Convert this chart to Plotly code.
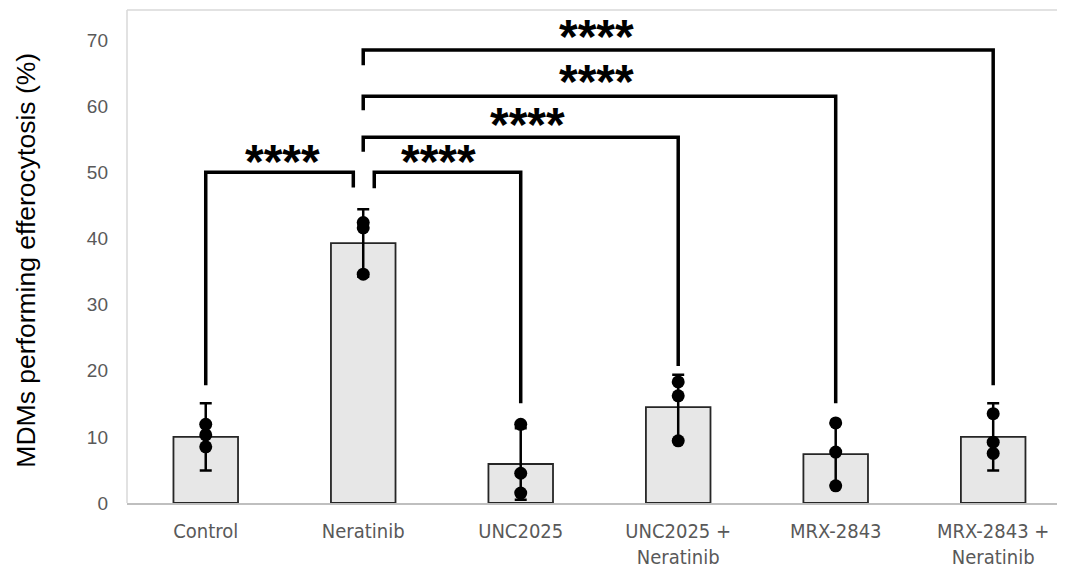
import plotly.graph_objects as go

# ---- data ----
categories = ["Control", "Neratinib", "UNC2025", "UNC2025 +<br>Neratinib", "MRX-2843", "MRX-2843 +<br>Neratinib"]
means = [10.0, 39.3, 5.9, 14.5, 7.4, 10.0]
errors = [5.1, 5.1, 5.4, 4.9, 4.7, 5.1]
replicates = [
    [11.9, 10.3, 8.5],
    [42.4, 41.6, 34.6],
    [11.9, 4.5, 1.5],
    [18.3, 16.2, 9.4],
    [12.1, 7.7, 2.6],
    [13.5, 9.2, 7.5],
]
y_ticks = [0, 10, 20, 30, 40, 50, 60, 70]

# significance brackets: left x, right x, bar height, left leg bottom, right leg bottom
br_left = [0.0, 1.07, 1.0, 1.0, 1.0]
br_right = [0.937, 2.0, 3.0, 4.0, 5.0]
br_height = [50.0, 50.0, 55.3, 61.5, 68.5]
br_left_bottom = [17.8, 47.6, 53.1, 59.4, 66.2]
br_right_bottom = [47.7, 15.1, 20.7, 15.1, 17.8]
br_label = ["****", "****", "****", "****", "****"]
br_label_x = [0.49, 1.475, 2.04, 2.48, 2.48]
br_label_y = [52.3, 52.3, 57.9, 64.4, 71.1]

xpos = list(range(len(categories)))

fig = go.Figure()

fig.add_trace(go.Bar(
    x=xpos, y=means,
    marker=dict(color="#e7e7e7", line=dict(color="#262626", width=1.8)),
    width=0.41,
    error_y=dict(type="data", array=errors, visible=True, color="black", thickness=2.5, width=6),
    hoverinfo="skip",
))

px, py = [], []
for i, reps in enumerate(replicates):
    for v in reps:
        px.append(i)
        py.append(v)
fig.add_trace(go.Scatter(
    x=px, y=py, mode="markers",
    marker=dict(color="black", size=13),
    hoverinfo="skip",
))

for i in range(len(br_left)):
    fig.add_trace(go.Scatter(
        x=[br_left[i], br_left[i], br_right[i], br_right[i]],
        y=[br_left_bottom[i], br_height[i], br_height[i], br_right_bottom[i]],
        mode="lines", line=dict(color="black", width=3.5),
        hoverinfo="skip",
    ))
    fig.add_annotation(
        x=br_label_x[i], y=br_label_y[i], xref="x", yref="y",
        text=br_label[i], showarrow=False, yshift=-4,
        font=dict(family="Liberation Sans", size=48, color="black", weight="bold"),
        xanchor="center", yanchor="middle",
    )

# y-axis title
fig.add_annotation(
    x=-0.108, y=0.493, xref="paper", yref="paper",
    text="MDMs performing efferocytosis (%)", textangle=-90, showarrow=False,
    font=dict(family="Liberation Sans", size=26.5, color="black"),
    xanchor="center", yanchor="middle",
)

# frame lines
fig.add_shape(type="line", xref="paper", yref="paper", x0=0, x1=0, y0=0, y1=1,
              line=dict(color="#d9d9d9", width=1.5))
fig.add_shape(type="line", xref="paper", yref="paper", x0=0, x1=1, y0=1, y1=1,
              line=dict(color="#d9d9d9", width=1.5))

# page body has an 8px margin, so the figure is sized to fit the 1065x570 window
fig.update_layout(
    width=1057, height=562,
    margin=dict(l=119, r=0, t=2, b=67),
    plot_bgcolor="white", paper_bgcolor="white",
    showlegend=False,
    xaxis=dict(
        tickmode="array", tickvals=xpos, ticktext=categories,
        range=[-0.5, 5.456], showgrid=False, zeroline=False,
        showline=True, linecolor="#bfbfbf", linewidth=2,
        tickfont=dict(family="DejaVu Sans Condensed, Liberation Sans", size=20, color="#595959"),
        ticks="", ticklabelstandoff=9,
    ),
    yaxis=dict(
        tickmode="array", tickvals=y_ticks,
        range=[0, 74.54], showgrid=False, zeroline=False, showline=False,
        tickfont=dict(family="Liberation Sans", size=19, color="#595959"),
        ticks="", ticklabelstandoff=18,
    ),
)

fig.write_html("out.html")
